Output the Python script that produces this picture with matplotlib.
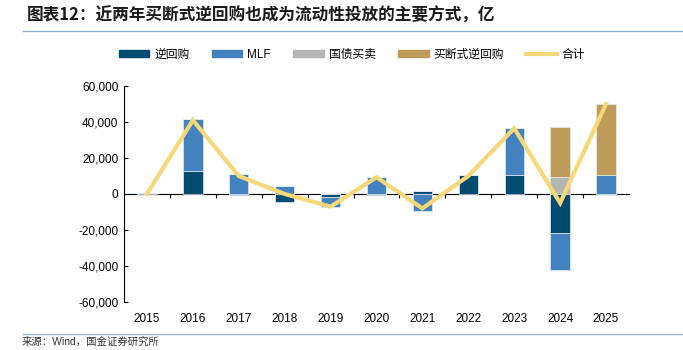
import numpy as np
import matplotlib
matplotlib.use("Agg")
import matplotlib.pyplot as plt
from matplotlib.lines import Line2D

plt.rcParams['font.family'] = ['Liberation Sans', 'Noto Sans CJK SC']

# data (亿)
years = ['2015', '2016', '2017', '2018', '2019', '2020', '2021', '2022', '2023', '2024', '2025']
reverse_repo = [300, 12800, -700, -4300, -1900, -300, 1700, 10500, 10600, -21500, 0]
mlf = [0, 28700, 11000, 4400, -5500, 9600, -9300, 0, 26000, -20500, 10700]
bond_trade = [0, 0, 0, 0, 0, 0, 0, 0, 0, 9600, 0]
outright_repo = [0, 0, 0, 0, 0, 0, 0, 0, 0, 27800, 39300]
total = [0, 41000, 10000, 0, -7000, 9300, -8000, 10000, 36500, -5000, 50000]

series = [
    ('逆回购', reverse_repo, '#014a70'),
    ('MLF', mlf, '#4481bf'),
    ('国债买卖', bond_trade, '#b5b5b5'),
    ('买断式逆回购', outright_repo, '#bf9b5a'),
]

fig = plt.figure(figsize=(6.83, 3.5), dpi=100)
ax = fig.add_axes([124 / 683, 1 - 302 / 350, 505 / 683, 216 / 350])

x = np.arange(len(years))
pos_base = np.zeros(len(years))
neg_base = np.zeros(len(years))
handles = []
for name, vals, color in series:
    v = np.array(vals, dtype=float)
    bottom = np.where(v >= 0, pos_base, neg_base)
    ax.bar(x, v, width=0.42, bottom=bottom, color=color,
           edgecolor='#e4ecf4', linewidth=0.5, zorder=2)
    pos_base += np.where(v > 0, v, 0)
    neg_base += np.where(v < 0, v, 0)
    handles.append(plt.Rectangle((0, 0), 1, 1, color=color, label=name))

ax.plot(x, total, color='#f6d878', linewidth=3, solid_joinstyle='miter', zorder=3)
handles.append(Line2D([0], [0], color='#f6d878', linewidth=3, label='合计'))

ax.set_xlim(-0.5, len(years) - 0.5)
ax.set_ylim(-60000, 60000)
ax.set_yticks(np.arange(-60000, 60001, 20000))
ax.yaxis.set_major_formatter(matplotlib.ticker.FuncFormatter(lambda v, p: f'{int(v):,}'))
ax.tick_params(axis='y', direction='in', length=3, width=0.8, labelsize=8.5, pad=4)
ax.set_xticks(x)
ax.set_xticklabels(years)
ax.tick_params(axis='x', length=0, labelsize=8.5, pad=8)

for s in ['top', 'right', 'bottom']:
    ax.spines[s].set_visible(False)
ax.spines['left'].set_linewidth(0.8)

# zero line with separator ticks between categories
zero_ax = ax.secondary_xaxis(0.5)
zero_ax.set_xticks(x[:-1] + 0.5, labels=[''] * (len(years) - 1))
zero_ax.tick_params(direction='in', length=3, width=0.8)
zero_ax.spines['bottom'].set_linewidth(0.8)

fig.legend(handles=handles, loc='center', bbox_to_anchor=(352 / 683, 1 - 55 / 350),
           ncol=5, frameon=False, fontsize=8.5, handlelength=2.6, handleheight=0.55,
           handletextpad=0.4, columnspacing=1.9)

fig.text(27 / 683, 1 - 16 / 350, '图表12：近两年买断式逆回购也成为流动性投放的主要方式，亿',
         fontsize=12, fontweight='bold', color='#1a1a1a', va='center', ha='left',
         family=['Noto Sans CJK SC', 'DejaVu Sans'])
fig.add_artist(Line2D([23 / 683, 1], [1 - 31 / 350] * 2, color='#8fb0c8', linewidth=1))
fig.add_artist(Line2D([23 / 683, 1], [1 - 334 / 350] * 2, color='#a3b6c6', linewidth=1))
fig.text(22 / 683, 1 - 337 / 350, '来源：Wind，国金证券研究所', fontsize=7.5,
         color='#333333', va='top', ha='left')

fig.savefig('out.png', dpi=100)
